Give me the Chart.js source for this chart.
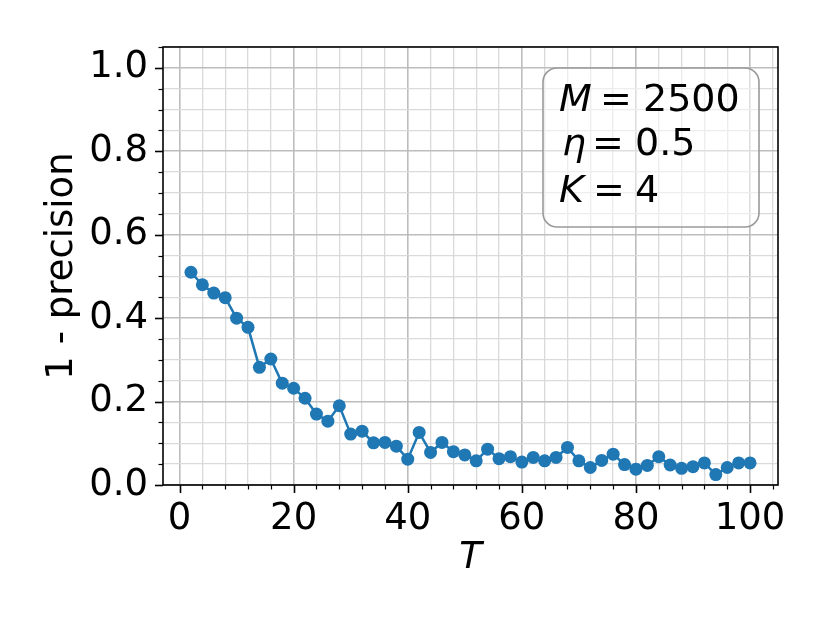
<!DOCTYPE html>
<html>
<head>
<meta charset="utf-8">
<script src="https://cdn.jsdelivr.net/npm/chart.js@4.4.0/dist/chart.umd.min.js"></script>
<style>
  html, body { margin: 0; padding: 0; background: #fff; }
  canvas { display: block; }
</style>
</head>
<body>
<canvas id="myChart" width="830" height="623"></canvas>
<script>
// data
let T = [2, 4, 6, 8, 10, 12, 14, 16, 18, 20, 22, 24, 26, 28, 30, 32, 34, 36, 38, 40,
         42, 44, 46, 48, 50, 52, 54, 56, 58, 60, 62, 64, 66, 68, 70, 72, 74, 76, 78, 80,
         82, 84, 86, 88, 90, 92, 94, 96, 98, 100];
let oneMinusPrecision = [0.510, 0.480, 0.460, 0.449, 0.400, 0.378, 0.282, 0.302, 0.244, 0.232,
         0.208, 0.170, 0.153, 0.190, 0.122, 0.129, 0.101, 0.102, 0.093, 0.062,
         0.126, 0.078, 0.102, 0.080, 0.072, 0.058, 0.086, 0.063, 0.068, 0.055,
         0.066, 0.058, 0.066, 0.090, 0.058, 0.042, 0.059, 0.074, 0.049, 0.038,
         0.047, 0.068, 0.048, 0.040, 0.044, 0.053, 0.025, 0.042, 0.053, 0.053];

let xMajor = [0, 20, 40, 60, 80, 100];
let xMinor = [0, 4, 8, 12, 16, 20, 24, 28, 32, 36, 40, 44, 48, 52, 56, 60, 64, 68, 72, 76, 80, 84, 88, 92, 96, 100, 104];
let yMajor = [0, 0.2, 0.4, 0.6, 0.8, 1.0];
let yMinor = [0, 0.05, 0.1, 0.15, 0.2, 0.25, 0.3, 0.35, 0.4, 0.45, 0.5, 0.55, 0.6, 0.65, 0.7, 0.75, 0.8, 0.85, 0.9, 0.95, 1.0, 1.05];

let boxLines = [['M', '2500'], ['\u03b7', '0.5'], ['K', '4']];

const FONT = '"DejaVu Sans", sans-serif';
const majorGrid = '#bdbdbd';
const minorGrid = '#dadada';

function isMajor(list, v) {
  return list.some(m => Math.abs(m - v) < 1e-6);
}

// spines, tick marks and the text box
const extras = {
  id: 'extras',
  afterDraw(chart) {
    const ctx = chart.ctx;
    const a = chart.chartArea;
    const xs = chart.scales.x, ys = chart.scales.y;
    ctx.save();
    ctx.strokeStyle = '#000';
    // ticks
    xMinor.forEach(v => {
      const px = Math.round(xs.getPixelForValue(v)) + 0.5;
      const major = isMajor(xMajor, v);
      ctx.lineWidth = major ? 1.6 : 1.2;
      ctx.beginPath();
      ctx.moveTo(px, a.bottom);
      ctx.lineTo(px, a.bottom + (major ? 8 : 4.5));
      ctx.stroke();
    });
    yMinor.forEach(v => {
      const py = Math.round(ys.getPixelForValue(v)) + 0.5;
      const major = isMajor(yMajor, v);
      ctx.lineWidth = major ? 1.6 : 1.2;
      ctx.beginPath();
      ctx.moveTo(a.left, py);
      ctx.lineTo(a.left - (major ? 8 : 4.5), py);
      ctx.stroke();
    });
    // spines
    ctx.lineWidth = 1.6;
    ctx.strokeRect(a.left, a.top, a.right - a.left, a.bottom - a.top);

    // text box
    const bx = a.right - 235, by = a.top + 21, bw = 216, bh = 159;
    ctx.beginPath();
    ctx.roundRect(bx, by, bw, bh, 14);
    ctx.fillStyle = 'rgba(255,255,255,0.5)';
    ctx.fill();
    ctx.strokeStyle = '#9a9a9a';
    ctx.lineWidth = 1.6;
    ctx.stroke();

    ctx.fillStyle = '#000';
    ctx.textBaseline = 'alphabetic';
    ctx.textAlign = 'left';
    const baselines = [by + 43, by + 87, by + 134];
    const symX = [bx + 16, bx + 19, bx + 16];
    const eqX = [bx + 57, bx + 49, bx + 50];
    const valX = [bx + 100, bx + 92, bx + 92];
    boxLines.forEach((ln, i) => {
      ctx.font = 'italic 38px ' + FONT;
      ctx.fillText(ln[0], symX[i], baselines[i]);
      ctx.font = '38px ' + FONT;
      ctx.fillText('=', eqX[i], baselines[i]);
      ctx.fillText(ln[1], valX[i], baselines[i]);
    });
    ctx.restore();
  }
};

var ctx = document.getElementById('myChart');
var myChart = new Chart(ctx, {
  type: 'line',
  data: {
    datasets: [{
      data: T.map((t, i) => ({ x: t, y: oneMinusPrecision[i] })),
      borderColor: '#1f77b4',
      backgroundColor: '#1f77b4',
      borderWidth: 2.5,
      pointRadius: 6.5,
      pointHoverRadius: 6.5,
      pointBorderWidth: 0,
      tension: 0
    }]
  },
  options: {
    responsive: false,
    animation: false,
    devicePixelRatio: 1,
    events: [],
    layout: { padding: { left: 20, right: 52, top: 47, bottom: 10 } },
    plugins: { legend: { display: false }, tooltip: { enabled: false } },
    scales: {
      x: {
        type: 'linear',
        min: -2.9,
        max: 104.9,
        afterBuildTicks: s => { s.ticks = xMinor.map(v => ({ value: v })); },
        afterFit: s => { s.height = 623 - 10 - 485; },
        border: { display: false },
        grid: {
          drawTicks: false,
          color: c => isMajor(xMajor, c.tick.value) ? majorGrid : minorGrid,
          lineWidth: c => isMajor(xMajor, c.tick.value) ? 1.6 : 1.3
        },
        ticks: {
          autoSkip: false,
          maxRotation: 0,
          padding: 12,
          color: '#000',
          font: { family: FONT, size: 37 },
          callback: v => isMajor(xMajor, v) ? String(v) : ''
        },
        title: {
          display: true,
          text: 'T',
          color: '#000',
          font: { family: FONT, size: 37, style: 'italic' },
          padding: { top: 0, bottom: 32 }
        }
      },
      y: {
        min: 0,
        max: 1.05,
        afterBuildTicks: s => { s.ticks = yMinor.map(v => ({ value: v })); },
        afterFit: s => { s.width = 163 - 20; },
        border: { display: false },
        grid: {
          drawTicks: false,
          color: c => isMajor(yMajor, c.tick.value) ? majorGrid : minorGrid,
          lineWidth: c => isMajor(yMajor, c.tick.value) ? 1.6 : 1.3
        },
        ticks: {
          autoSkip: false,
          padding: 15,
          color: '#000',
          font: { family: FONT, size: 37 },
          callback: v => isMajor(yMajor, v) ? v.toFixed(1) : ''
        },
        title: {
          display: true,
          text: '1 - precision',
          color: '#000',
          font: { family: FONT, size: 37 },
          padding: { top: 20, bottom: 0 }
        }
      }
    }
  },
  plugins: [extras]
});
</script>
</body>
</html>
